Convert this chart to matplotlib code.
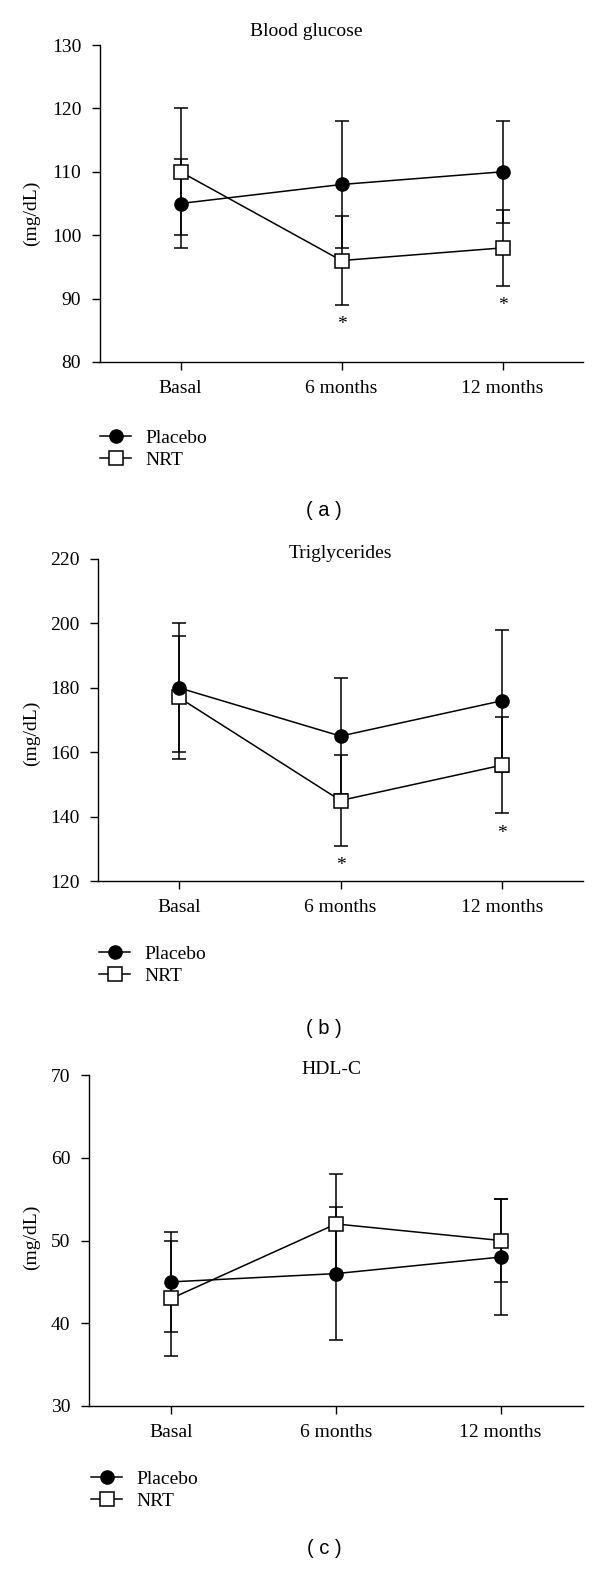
import numpy as np
import matplotlib.pyplot as plt
from matplotlib.lines import Line2D

plt.rcParams['font.family'] = 'Liberation Serif'

months = ['Basal', '6 months', '12 months']

glucose_placebo = [105, 108, 110]
glucose_placebo_err = [7, 10, 8]
glucose_nrt = [110, 96, 98]
glucose_nrt_err = [10, 7, 6]
glucose_sig = [False, True, True]

trig_placebo = [180, 165, 176]
trig_placebo_err = [20, 18, 22]
trig_nrt = [177, 145, 156]
trig_nrt_err = [19, 14, 15]
trig_sig = [False, True, True]

hdl_placebo = [45, 46, 48]
hdl_placebo_err = [6, 8, 7]
hdl_nrt = [43, 52, 50]
hdl_nrt_err = [7, 6, 5]
hdl_sig = [False, False, False]

W, H = 600, 1582
fig = plt.figure(figsize=(W / 100, H / 100), dpi=100)

# pixel layout of each panel: left, right, top, bottom of the axes
panels = [
    dict(title='Blood glucose', tag='( a )', p=glucose_placebo, pe=glucose_placebo_err,
         n=glucose_nrt, ne=glucose_nrt_err, sig=glucose_sig,
         ylim=(80, 130), step=10, box=(100, 583, 45, 362),
         title_xy=(306, 31), ylab_y=213, leg=(100, 449), tag_y=510),
    dict(title='Triglycerides', tag='( b )', p=trig_placebo, pe=trig_placebo_err,
         n=trig_nrt, ne=trig_nrt_err, sig=trig_sig,
         ylim=(120, 220), step=20, box=(98, 583, 559, 881),
         title_xy=(340, 553), ylab_y=733, leg=(99, 965), tag_y=1028),
    dict(title='HDL-C', tag='( c )', p=hdl_placebo, pe=hdl_placebo_err,
         n=hdl_nrt, ne=hdl_nrt_err, sig=hdl_sig,
         ylim=(30, 70), step=10, box=(89, 583, 1075, 1406),
         title_xy=(331, 1069), ylab_y=1237, leg=(91, 1490), tag_y=1548),
]

x = np.arange(len(months))
lw = 1.1
ms = 9.5
fs = 14

for pn in panels:
    l, r, t, b = pn['box']
    ax = fig.add_axes([l / W, 1 - b / H, (r - l) / W, (b - t) / H])

    ax.errorbar(x, pn['p'], yerr=pn['pe'], fmt='none', ecolor='black',
                elinewidth=lw, capsize=4.8, capthick=lw, zorder=2)
    ax.errorbar(x, pn['n'], yerr=pn['ne'], fmt='none', ecolor='black',
                elinewidth=lw, capsize=4.8, capthick=lw, zorder=2)
    ax.plot(x, pn['n'], color='black', lw=lw, marker='s', ms=ms,
            mfc='white', mec='black', mew=lw, zorder=3)
    ax.plot(x, pn['p'], color='black', lw=lw, marker='o', ms=ms,
            mfc='black', mec='black', zorder=4)

    for i, s in enumerate(pn['sig']):
        if s:
            ax.annotate('*', xy=(x[i], pn['n'][i] - pn['ne'][i]), xytext=(0, -20),
                        textcoords='offset pixels', ha='center', va='center',
                        fontsize=fs)

    ax.set_xlim(-0.5, 2.5)
    ax.set_ylim(*pn['ylim'])
    ax.set_yticks(np.arange(pn['ylim'][0], pn['ylim'][1] + 1, pn['step']))
    ax.set_xticks(x)
    ax.set_xticklabels(months)
    ax.spines['top'].set_visible(False)
    ax.spines['right'].set_visible(False)
    for sp in ['left', 'bottom']:
        ax.spines[sp].set_linewidth(1.0)
    ax.tick_params(axis='both', direction='out', length=6, width=1.0, labelsize=fs)
    ax.tick_params(axis='y', pad=7.5)
    ax.tick_params(axis='x', pad=7)

    fig.text(pn['title_xy'][0] / W, 1 - pn['title_xy'][1] / H, pn['title'],
             ha='center', va='center', fontsize=fs)
    fig.text(31 / W, 1 - pn['ylab_y'] / H, '(mg/dL)', rotation=90,
             ha='center', va='center', fontsize=fs)
    fig.text(324 / W, 1 - pn['tag_y'] / H, pn['tag'], ha='center', va='center',
             fontsize=14.5, family='Liberation Sans')

    handles = [
        Line2D([], [], color='black', lw=lw, marker='o', ms=ms, mfc='black'),
        Line2D([], [], color='black', lw=lw, marker='s', ms=ms, mfc='white', mew=lw),
    ]
    ax.legend(handles, ['Placebo', 'NRT'], loc='center left',
              bbox_to_anchor=(pn['leg'][0] / W, 1 - pn['leg'][1] / H),
              bbox_transform=fig.transFigure, frameon=False, fontsize=fs,
              handlelength=1.6, handletextpad=0.72, labelspacing=0.25,
              borderpad=0, borderaxespad=0)

fig.savefig('out.png', dpi=100)
